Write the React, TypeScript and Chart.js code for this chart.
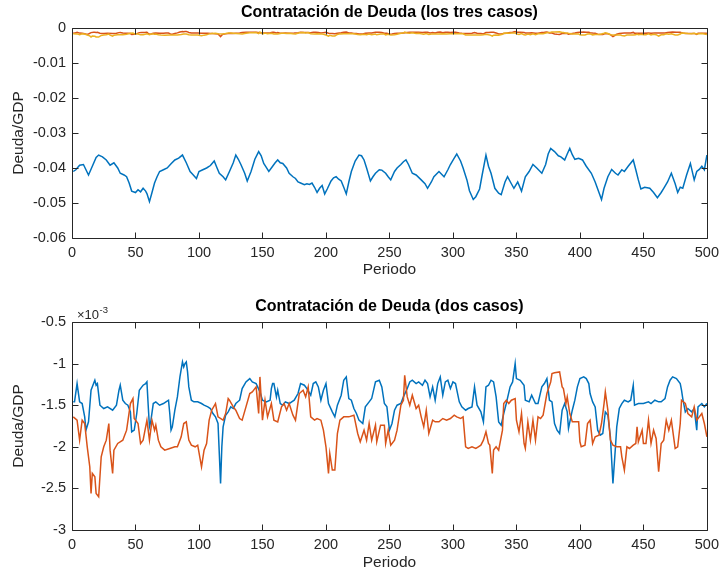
import React, { useEffect, useRef } from "react";
import { Chart, registerables } from "chart.js";

Chart.register(...registerables);

const FONT = "'Liberation Sans', Arial, Helvetica, sans-serif";
const INK = "#262626";
const BLUE = "#0072BD";
const ORANGE = "#D95319";
const YELLOW = "#EDB120";

const periodTicks = [0, 50, 100, 150, 200, 250, 300, 350, 400, 450, 500];
const threeCaseTicks = [0, -0.01, -0.02, -0.03, -0.04, -0.05, -0.06];
const twoCaseTicks = [-0.5, -1, -1.5, -2, -2.5, -3];

// Caso 1: contratación de deuda / GDP
const caso1Periods = [
  1, 3, 6, 9, 13, 16, 19, 21, 24, 27,
  30, 33, 36, 38, 41, 43, 45, 47, 50, 52,
  54, 56, 58, 59, 61, 63, 65, 67, 69, 72,
  75, 78, 81, 84, 87, 90, 93, 95, 98, 100,
  103, 106, 109, 112, 114, 116, 119, 121, 124, 127,
  129, 131, 133, 136, 138, 141, 144, 147, 149, 151,
  153, 155, 158, 160, 162, 164, 166, 169, 171, 174,
  176, 178, 180, 183, 185, 187, 189, 191, 193, 195,
  197, 199, 201, 204, 206, 208, 210, 212, 214, 216,
  218, 220, 223, 226, 228, 230, 232, 235, 237, 239,
  242, 244, 247, 249, 251, 254, 256, 259, 261, 263,
  265, 268, 271, 275, 278, 280, 283, 285, 289, 293,
  296, 298, 301, 303, 306, 308, 311, 313, 316, 318,
  321, 323, 326, 328, 330, 333, 336, 338, 341, 343,
  346, 348, 351, 354, 357, 360, 363, 366, 370, 373,
  375, 377, 380, 383, 385, 388, 390, 392, 394, 396,
  399, 402, 405, 409, 412, 415, 417, 419, 422, 425,
  428, 430, 433, 435, 438, 442, 444, 446, 448, 451,
  455, 458, 461, 464, 466, 469, 472, 475, 477, 479,
  481, 484, 487, 490, 492, 494, 496, 498, 500,
];
const caso1Debt = [
  -0.041, -0.0405, -0.0392, -0.039, -0.042, -0.0395, -0.037, -0.0363, -0.0368, -0.0377,
  -0.0392, -0.0385, -0.04, -0.0415, -0.042, -0.0425, -0.0443, -0.0466, -0.047, -0.0462,
  -0.0468, -0.0458, -0.0466, -0.0473, -0.0496, -0.047, -0.0443, -0.0425, -0.041, -0.0405,
  -0.04, -0.0388, -0.0377, -0.0372, -0.0363, -0.0385, -0.041, -0.0418, -0.043, -0.041,
  -0.0405, -0.04, -0.0393, -0.038, -0.0398, -0.0415, -0.0425, -0.0434, -0.041, -0.0385,
  -0.0363, -0.0375, -0.039, -0.0415, -0.0437, -0.041, -0.0375, -0.0353, -0.0365, -0.0387,
  -0.0398, -0.041, -0.0395, -0.0385, -0.0377, -0.0385, -0.0387, -0.04, -0.0415, -0.0425,
  -0.043, -0.044, -0.0443, -0.0448, -0.0445, -0.0447, -0.0443, -0.0455, -0.047, -0.0458,
  -0.045, -0.0474, -0.046, -0.0437, -0.0428, -0.0425, -0.0432, -0.0437, -0.0455, -0.0474,
  -0.044, -0.041, -0.038, -0.0363, -0.0365, -0.0377, -0.04, -0.0437, -0.0425, -0.0415,
  -0.0405, -0.0406, -0.0415, -0.0425, -0.0434, -0.041, -0.04, -0.039, -0.0382, -0.0377,
  -0.039, -0.0415, -0.042, -0.0434, -0.0445, -0.0458, -0.044, -0.0425, -0.041, -0.0425,
  -0.0405, -0.039, -0.0372, -0.036, -0.038, -0.04, -0.0434, -0.0465, -0.049, -0.0482,
  -0.046, -0.042, -0.0363, -0.0395, -0.0415, -0.0458, -0.0472, -0.0476, -0.044, -0.0425,
  -0.0445, -0.0458, -0.044, -0.0466, -0.0425, -0.041, -0.039, -0.04, -0.0415, -0.039,
  -0.036, -0.0344, -0.0353, -0.0365, -0.0368, -0.0377, -0.036, -0.0344, -0.0362, -0.0375,
  -0.0372, -0.0377, -0.0395, -0.0415, -0.044, -0.047, -0.049, -0.0458, -0.0425, -0.0404,
  -0.0415, -0.042, -0.0405, -0.041, -0.0395, -0.0377, -0.0405, -0.0434, -0.046, -0.0455,
  -0.0458, -0.047, -0.0485, -0.047, -0.0458, -0.044, -0.0415, -0.0445, -0.047, -0.0455,
  -0.0458, -0.042, -0.0387, -0.0434, -0.041, -0.0404, -0.0395, -0.0405, -0.0363,
];

// Caso 2 (en unidades de 10^-3)
const caso2Periods = [
  1, 2, 4, 6, 8, 10, 11, 13, 15, 17,
  18, 19, 20, 22, 25, 28, 32, 35, 37, 38,
  40, 42, 44, 46, 47, 49, 51, 53, 55, 56,
  58, 59, 60, 61, 62, 64, 66, 69, 72, 74,
  76, 77, 78, 79, 81, 83, 85, 87, 88, 89,
  90, 91, 92, 94, 96, 99, 102, 104, 107, 109,
  111, 113, 115, 117, 118, 119, 121, 123, 125, 127,
  129, 132, 134, 137, 140, 142, 145, 148, 150, 153,
  156, 157, 158, 159, 161, 162, 164, 166, 168, 171,
  175, 178, 180, 183, 185, 188, 190, 192, 194, 196,
  198, 199, 200, 202, 205, 207, 209, 212, 214, 216,
  218, 220, 222, 224, 226, 229, 231, 234, 236, 239,
  242, 244, 246, 248, 250, 252, 254, 256, 259, 261,
  264, 266, 268, 271, 273, 276, 278, 280, 282, 284,
  286, 288, 290, 292, 294, 296, 298, 300, 302, 305,
  307, 310, 312, 315, 317, 319, 322, 324, 326, 328,
  330, 332, 334, 336, 338, 340, 342, 345, 347, 349,
  350, 353, 356, 357, 360, 362, 365, 367, 370, 372,
  374, 376, 378, 380, 382, 384, 386, 388, 390, 391,
  394, 396, 398, 400, 403, 405, 407, 408, 410, 412,
  414, 416, 418, 420, 422, 424, 426, 428, 429, 431,
  433, 435, 438, 440, 442, 443, 446, 450, 454, 456,
  459, 462, 464, 467, 469, 471, 473, 476, 479, 480,
  481, 483, 485, 488, 490, 492, 493, 496, 498, 500,
];
const caso2Debt = [
  -1.46, -1.46, -1.24, -1.46, -1.48, -1.64, -1.8, -1.7, -1.32, -1.24,
  -1.2, -1.26, -1.24, -1.5, -1.54, -1.52, -1.56, -1.5, -1.32, -1.26,
  -1.44, -1.48, -1.5, -1.58, -1.82, -1.8, -1.6, -1.32, -1.28, -1.26,
  -1.24, -1.22, -1.5, -1.76, -1.7, -1.48, -1.46, -1.5, -1.48, -1.46,
  -1.44, -1.6, -1.8, -1.76, -1.56, -1.4, -1.16, -0.98, -1.04, -1.0,
  -0.98, -1.1, -1.28, -1.44, -1.46, -1.46, -1.48, -1.5, -1.52, -1.54,
  -1.6, -1.64, -1.72, -2.44, -2.0, -1.76, -1.62, -1.58, -1.52, -1.54,
  -1.48, -1.44, -1.3, -1.22, -1.18, -1.22, -1.24, -1.34, -1.44, -1.46,
  -1.44, -1.3, -1.24, -1.24, -1.4, -1.32, -1.48, -1.5, -1.46, -1.48,
  -1.44, -1.36, -1.24, -1.26, -1.3, -1.38, -1.24, -1.22, -1.28, -1.44,
  -1.32, -1.28, -1.24, -1.48, -1.58, -1.64, -1.5, -1.38, -1.2, -1.16,
  -1.42, -1.44, -1.54, -1.6, -1.68, -1.72, -1.52, -1.46, -1.42, -1.22,
  -1.2, -1.28, -1.48, -1.52, -1.8, -1.72, -1.56, -1.5, -1.48, -1.4,
  -1.3, -1.22, -1.2, -1.24, -1.22, -1.26, -1.2, -1.24, -1.4, -1.28,
  -1.44, -1.24, -1.16, -1.38, -1.22, -1.2, -1.3, -1.22, -1.24, -1.46,
  -1.52, -1.56, -1.54, -1.52, -1.28, -1.5, -1.58, -1.7, -1.28, -1.26,
  -1.2, -1.22, -1.4, -1.7, -1.74, -1.6, -1.48, -1.28, -1.22, -1.0,
  -1.18, -1.2, -1.26, -1.44, -1.46, -1.38, -1.48, -1.48, -1.28, -1.24,
  -1.18, -1.44, -1.46, -1.72, -1.8, -1.84, -1.56, -1.48, -1.58, -1.78,
  -1.56, -1.44, -1.28, -1.18, -1.16, -1.18, -1.24, -1.36, -1.46, -1.52,
  -1.8, -1.86, -1.84, -1.58, -1.62, -1.88, -2.44, -2.0, -1.76, -1.54,
  -1.48, -1.44, -1.46, -1.44, -1.26, -1.5, -1.48, -1.48, -1.46, -1.48,
  -1.44, -1.46, -1.46, -1.42, -1.28, -1.2, -1.16, -1.18, -1.24, -1.32,
  -1.42, -1.58, -1.54, -1.58, -1.54, -1.8, -1.52, -1.48, -1.52, -1.48,
];

// Caso 3 (en unidades de 10^-3)
const caso3Periods = [
  1, 4, 6, 8, 10, 12, 14, 15, 16, 18,
  19, 21, 23, 25, 27, 29, 30, 32, 33, 36,
  40, 43, 46, 48, 49, 52, 54, 56, 59, 61,
  63, 65, 66, 68, 70, 73, 77, 81, 83, 86,
  88, 90, 92, 94, 97, 99, 102, 104, 106, 108,
  110, 113, 115, 119, 121, 123, 124, 127, 129, 132,
  134, 137, 140, 142, 145, 147, 148, 150, 152, 154,
  157, 159, 162, 165, 167, 169, 171, 174, 176, 179,
  182, 184, 186, 188, 191, 193, 196, 198, 200, 202,
  203, 205, 207, 209, 211, 214, 218, 222, 225, 227,
  230, 232, 234, 236, 239, 240, 243, 246, 247, 249,
  251, 254, 256, 259, 261, 262, 264, 266, 268, 271,
  273, 275, 277, 279, 281, 284, 286, 289, 292, 295,
  298, 301, 303, 306, 308, 310, 312, 315, 318, 320,
  322, 324, 326, 328, 329, 331, 332, 334, 336, 339,
  340, 342, 344, 346, 349, 350, 352, 354, 356, 357,
  359, 361, 363, 365, 367, 369, 371, 374, 377, 378,
  380, 384, 386, 387, 389, 390, 392, 394, 396, 399,
  400, 401, 404, 406, 408, 410, 412, 415, 417, 419,
  420, 422, 424, 426, 429, 432, 433, 435, 437, 439,
  442, 444, 445, 446, 449, 450, 452, 454, 456, 458,
  460, 462, 464, 466, 468, 470, 472, 475, 477, 479,
  480, 483, 485, 488, 490, 492, 494, 496, 498, 500,
];
const caso3Debt = [
  -1.64, -1.68, -1.92, -1.68, -1.72, -2.0, -2.24, -2.56, -2.32, -2.36,
  -2.56, -2.6, -2.12, -2.0, -1.92, -1.72, -2.04, -2.32, -2.04, -1.96,
  -1.92, -1.8, -1.48, -1.42, -1.66, -1.72, -1.96, -1.92, -1.68, -1.92,
  -1.68, -1.8, -1.74, -1.92, -2.0, -2.04, -2.02, -2.0, -2.0, -1.88,
  -1.72, -1.7, -1.92, -1.98, -2.0, -1.98, -2.24, -2.04, -1.96, -1.68,
  -1.56, -1.48, -1.64, -1.68, -1.6, -1.42, -1.44, -1.52, -1.56, -1.66,
  -1.68, -1.52, -1.36, -1.34, -1.28, -1.6, -1.16, -1.68, -1.44, -1.64,
  -1.48, -1.68, -1.7, -1.52, -1.48, -1.56, -1.48, -1.62, -1.68, -1.36,
  -1.32, -1.4, -1.28, -1.64, -1.68, -1.66, -1.68, -1.8, -2.0, -2.32,
  -2.08, -2.28, -2.28, -1.84, -1.68, -1.64, -1.64, -1.62, -1.84, -1.94,
  -1.8, -1.92, -1.72, -1.92, -1.74, -1.94, -1.74, -1.74, -1.96, -1.8,
  -1.98, -1.92, -1.8, -1.5, -1.44, -1.14, -1.4, -1.5, -1.38, -1.54,
  -1.5, -1.64, -1.76, -1.56, -1.84, -1.68, -1.7, -1.7, -1.66, -1.68,
  -1.66, -1.62, -1.64, -1.66, -1.64, -2.0, -2.02, -2.0, -2.02, -2.0,
  -1.98, -1.92, -1.82, -1.96, -1.98, -2.32, -2.04, -2.0, -2.04, -1.8,
  -1.48, -1.44, -1.48, -1.44, -1.42, -1.68, -1.82, -1.6, -1.96, -2.02,
  -1.7, -1.92, -1.68, -1.92, -1.64, -1.66, -1.62, -1.36, -1.22, -1.12,
  -1.11, -1.1, -1.28, -1.3, -1.48, -1.4, -1.6, -1.7, -1.7, -1.7,
  -1.94, -2.0, -1.98, -1.72, -1.68, -1.96, -1.88, -1.86, -1.72, -1.48,
  -1.34, -1.56, -1.92, -1.98, -2.0, -2.0, -2.12, -2.28, -2.0, -2.02,
  -1.98, -1.96, -1.76, -1.94, -1.8, -1.96, -1.96, -1.68, -1.96, -1.8,
  -1.9, -2.3, -1.96, -1.92, -1.68, -1.8, -1.68, -2.02, -2.0, -1.72,
  -1.44, -1.48, -1.6, -1.64, -1.52, -1.68, -1.64, -1.6, -1.72, -1.88,
];

const toPoints = (xs: number[], ys: number[], unit = 1) =>
  xs.map((x, i) => ({ x, y: ys[i] * unit }));

// Boxed axes with inward tick marks on all four sides, plus the title and exponent note.
const boxedAxes = {
  id: "boxedAxes",
  afterDatasetsDraw(chart: any, _args: any, opts: any) {
    const { ctx, chartArea, scales } = chart;
    const L = Math.round(chartArea.left) + 0.5;
    const R = Math.round(chartArea.right) + 0.5;
    const T = Math.round(chartArea.top) + 0.5;
    const B = Math.round(chartArea.bottom) + 0.5;
    const tick = 6;
    ctx.save();
    ctx.strokeStyle = INK;
    ctx.lineWidth = 1;
    ctx.beginPath();
    ctx.rect(L, T, R - L, B - T);
    for (const t of scales.x.ticks) {
      const px = Math.round(scales.x.getPixelForValue(t.value)) + 0.5;
      ctx.moveTo(px, B);
      ctx.lineTo(px, B - tick);
      ctx.moveTo(px, T);
      ctx.lineTo(px, T + tick);
    }
    for (const t of scales.y.ticks) {
      const py = Math.round(scales.y.getPixelForValue(t.value)) + 0.5;
      ctx.moveTo(L, py);
      ctx.lineTo(L + tick, py);
      ctx.moveTo(R, py);
      ctx.lineTo(R - tick, py);
    }
    ctx.stroke();

    ctx.fillStyle = "#000";
    ctx.font = `bold 16px ${FONT}`;
    ctx.textAlign = "center";
    ctx.textBaseline = "middle";
    ctx.fillText(opts.title, (chartArea.left + chartArea.right) / 2, opts.titleY);

    if (opts.exponent) {
      ctx.fillStyle = INK;
      ctx.textAlign = "left";
      ctx.textBaseline = "alphabetic";
      ctx.font = `13px ${FONT}`;
      const base = "×10";
      const x0 = chartArea.left + 5;
      ctx.fillText(base, x0, chartArea.top - 3);
      const w = ctx.measureText(base).width;
      ctx.font = `9.5px ${FONT}`;
      ctx.fillText(opts.exponent, x0 + w + 0.5, chartArea.top - 9);
    }
    ctx.restore();
  },
};

type PanelConfig = {
  datasets: any[];
  title: string;
  titleY: number;
  exponent?: string;
  padTop: number;
  xHeight: number;
  xTitlePad: number;
  yMin: number;
  yMax: number;
  yTicks: number[];
};

function buildPanel(canvas: HTMLCanvasElement, cfg: PanelConfig) {
  return new Chart(canvas, {
    type: "line",
    data: { datasets: cfg.datasets },
    options: {
      animation: false,
      responsive: false,
      devicePixelRatio: 1,
      layout: { padding: { top: cfg.padTop, right: 16, left: 0, bottom: 0 } },
      elements: {
        point: { radius: 0 },
        line: { borderWidth: 1.5, tension: 0 },
      },
      plugins: {
        legend: { display: false },
        tooltip: { enabled: false },
        title: { display: false },
        boxedAxes: { title: cfg.title, titleY: cfg.titleY, exponent: cfg.exponent },
      } as any,
      scales: {
        x: {
          type: "linear",
          min: 0,
          max: 500,
          afterBuildTicks: (s: any) => {
            s.ticks = periodTicks.map((v) => ({ value: v }));
          },
          afterFit: (s: any) => {
            s.height = cfg.xHeight;
          },
          grid: { display: false, drawTicks: false },
          border: { display: false },
          ticks: {
            color: INK,
            font: { family: FONT, size: 14.5 },
            padding: 6,
            maxRotation: 0,
            autoSkip: false,
            callback: (v: any) => String(v),
          },
          title: {
            display: true,
            text: "Periodo",
            color: INK,
            font: { family: FONT, size: 15.5 },
            padding: { top: 0, bottom: cfg.xTitlePad },
          },
        },
        y: {
          type: "linear",
          min: cfg.yMin,
          max: cfg.yMax,
          afterBuildTicks: (s: any) => {
            s.ticks = cfg.yTicks.map((v) => ({ value: v }));
          },
          afterFit: (s: any) => {
            s.width = 72;
          },
          grid: { display: false, drawTicks: false },
          border: { display: false },
          ticks: {
            color: INK,
            font: { family: FONT, size: 14.5 },
            padding: 6,
            autoSkip: false,
            callback: (v: any) => String(v),
          },
          title: {
            display: true,
            text: "Deuda/GDP",
            color: INK,
            font: { family: FONT, size: 15.5 },
            padding: { top: 9, bottom: 0 },
          },
        },
      },
    },
    plugins: [boxedAxes],
  } as any);
}

export default function App() {
  const topRef = useRef<HTMLCanvasElement>(null);
  const bottomRef = useRef<HTMLCanvasElement>(null);

  useEffect(() => {
    const top = buildPanel(topRef.current!, {
      title: "Contratación de Deuda (los tres casos)",
      titleY: 13,
      padTop: 28,
      xHeight: 52,
      xTitlePad: 10.7,
      yMin: -0.06,
      yMax: 0,
      yTicks: threeCaseTicks,
      datasets: [
        { data: toPoints(caso1Periods, caso1Debt), borderColor: BLUE, order: 3 },
        { data: toPoints(caso2Periods, caso2Debt, 1e-3), borderColor: ORANGE, order: 2 },
        { data: toPoints(caso3Periods, caso3Debt, 1e-3), borderColor: YELLOW, order: 1 },
      ],
    });
    const bottom = buildPanel(bottomRef.current!, {
      title: "Contratación de Deuda (dos casos)",
      titleY: 17,
      exponent: "-3",
      padTop: 32,
      xHeight: 43,
      xTitlePad: 0.7,
      yMin: -3,
      yMax: -0.5,
      yTicks: twoCaseTicks,
      datasets: [
        { data: toPoints(caso2Periods, caso2Debt), borderColor: BLUE, order: 2 },
        { data: toPoints(caso3Periods, caso3Debt), borderColor: ORANGE, order: 1 },
      ],
    });
    return () => {
      top.destroy();
      bottom.destroy();
    };
  }, []);

  return (
    <div
      style={{
        position: "absolute",
        left: 0,
        top: 0,
        width: 725,
        height: 573,
        background: "#fff",
      }}
    >
      <canvas ref={topRef} width={725} height={290} style={{ display: "block" }} />
      <canvas ref={bottomRef} width={725} height={283} style={{ display: "block" }} />
    </div>
  );
}
